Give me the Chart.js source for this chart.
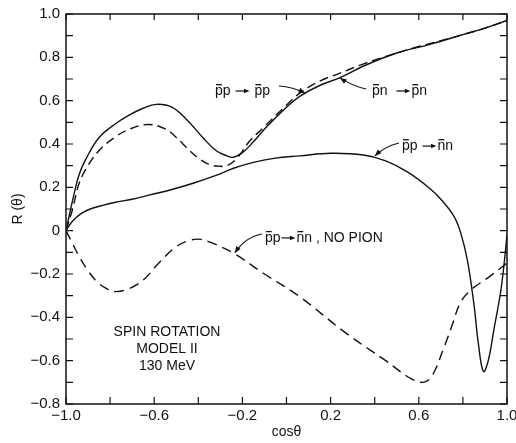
<!DOCTYPE html>
<html>
<head>
<meta charset="utf-8">
<script src="https://cdn.jsdelivr.net/npm/chart.js@4.4.0/dist/chart.umd.min.js"></script>
<style>
  html, body { margin: 0; background: #fff; }
  #wrap { width: 516px; height: 443px; }
</style>
</head>
<body>
<div id="wrap"><canvas id="c" width="516" height="443"></canvas></div>
<script>
  // pbar n -> pbar n (solid, upper)
  const pnX = [-1, -0.97, -0.94, -0.91, -0.85, -0.78, -0.72, -0.65, -0.59, -0.52, -0.45, -0.38, -0.32, -0.27, -0.24, -0.2, -0.15, -0.09, 0, 0.06, 0.15, 0.24, 0.35, 0.5, 0.65, 0.8, 0.9, 1.0];
  const pnY = [0, 0.14, 0.26, 0.33, 0.43, 0.49, 0.53, 0.565, 0.583, 0.57, 0.51, 0.43, 0.37, 0.345, 0.339, 0.36, 0.41, 0.48, 0.57, 0.62, 0.67, 0.705, 0.76, 0.82, 0.86, 0.905, 0.935, 0.97];

  // pbar p -> pbar p (dashed, upper)
  const ppX = [-1, -0.97, -0.94, -0.9, -0.85, -0.78, -0.72, -0.63, -0.55, -0.5, -0.44, -0.4, -0.35, -0.31, -0.27, -0.22, -0.17, -0.1, 0, 0.06, 0.15, 0.24, 0.35, 0.47, 0.6, 0.75, 0.9, 1.0];
  const ppY = [0, 0.1, 0.22, 0.3, 0.37, 0.43, 0.465, 0.49, 0.47, 0.43, 0.37, 0.335, 0.305, 0.298, 0.3, 0.34, 0.41, 0.48, 0.58, 0.635, 0.69, 0.726, 0.77, 0.81, 0.85, 0.89, 0.935, 0.97];

  // pbar p -> nbar n (solid, middle)
  const nnX = [-1, -0.97, -0.93, -0.89, -0.84, -0.78, -0.7, -0.62, -0.52, -0.42, -0.32, -0.24, -0.15, -0.05, 0.06, 0.2, 0.35, 0.45, 0.55, 0.65, 0.7, 0.76, 0.79, 0.82, 0.85, 0.87, 0.893, 0.915, 0.94, 0.97, 0.985, 1.0];
  const nnY = [0, 0.045, 0.08, 0.1, 0.115, 0.13, 0.145, 0.165, 0.19, 0.22, 0.255, 0.288, 0.315, 0.335, 0.345, 0.357, 0.349, 0.322, 0.27, 0.195, 0.145, 0.065, -0.01, -0.135, -0.34, -0.52, -0.65, -0.6, -0.46, -0.29, -0.17, -0.02];

  // pbar p -> nbar n, no pion (dashed, lower)
  const npX = [-1, -0.97, -0.94, -0.9, -0.86, -0.82, -0.78, -0.72, -0.65, -0.58, -0.5, -0.44, -0.39, -0.33, -0.24, -0.1, 0.06, 0.27, 0.45, 0.56, 0.62, 0.66, 0.71, 0.75, 0.79, 0.84, 0.91, 1.0];
  const npY = [0, -0.06, -0.12, -0.185, -0.235, -0.265, -0.281, -0.27, -0.228, -0.15, -0.074, -0.045, -0.04, -0.06, -0.104, -0.2, -0.305, -0.473, -0.6, -0.68, -0.7, -0.67, -0.55, -0.44, -0.33, -0.27, -0.22, -0.15];

  const xTickValues = [-1, -0.6, -0.2, 0.2, 0.6, 1.0];
  const xTickLabels = ['\u22121.0', '\u22120.6', '\u22120.2', '0.2', '0.6', '1.0'];
  const yTickValues = [-0.8, -0.6, -0.4, -0.2, 0, 0.2, 0.4, 0.6, 0.8, 1.0];
  const yTickLabels = ['\u22120.8', '\u22120.6', '\u22120.4', '\u22120.2', '0', '0.2', '0.4', '0.6', '0.8', '1.0'];

  const FONT = '"Liberation Sans", Arial, sans-serif';
  const INK = '#111';

  function pts(xs, ys) {
    return xs.map((x, i) => ({ x: x, y: ys[i] }));
  }

  function arrowHead(ctx, x0, y0, x1, y1, size) {
    const a = Math.atan2(y1 - y0, x1 - x0);
    ctx.beginPath();
    ctx.moveTo(x1, y1);
    ctx.lineTo(x1 - size * Math.cos(a - 0.38), y1 - size * Math.sin(a - 0.38));
    ctx.lineTo(x1 - size * Math.cos(a + 0.38), y1 - size * Math.sin(a + 0.38));
    ctx.closePath();
    ctx.fill();
  }

  // '^' puts a bar over the next letter, '>' is a short reaction arrow
  function drawLabel(ctx, x, y, str) {
    let cx = x;
    for (let i = 0; i < str.length; i++) {
      const c = str[i];
      if (c === '^') {
        const ch = str[++i];
        const w = ctx.measureText(ch).width;
        ctx.fillText(ch, cx, y);
        ctx.fillRect(cx + 1, y - 11, w - 2, 1.3);
        cx += w;
      } else if (c === '>') {
        ctx.fillRect(cx + 1, y - 4.6, 9, 1.2);
        arrowHead(ctx, cx + 1, y - 4, cx + 15, y - 4, 6);
        cx += 16;
      } else {
        ctx.fillText(c, cx, y);
        cx += ctx.measureText(c).width;
      }
    }
  }

  // text labels and their pointers, in data units
  const labels = [
    { x: -0.324, y: 0.626, text: '^pp > ^pp' },
    { x: 0.388, y: 0.626, text: '^pn  >^pn' },
    { x: 0.524, y: 0.372, text: '^pp >^nn' },
    { x: -0.098, y: -0.052, text: '^pp>^nn , NO PION' }
  ];
  const pointers = [
    [[-0.034, 0.668], [0.029, 0.663], [0.084, 0.635]],
    [[0.361, 0.654], [0.297, 0.668], [0.243, 0.705]],
    [[0.510, 0.405], [0.447, 0.391], [0.401, 0.345]],
    [[-0.111, -0.015], [-0.188, -0.029], [-0.234, -0.103]]
  ];
  const noteLines = ['SPIN ROTATION', 'MODEL II', '130 MeV'];
  const noteY = [-0.486, -0.564, -0.643];

  const framePlugin = {
    id: 'frame',
    afterDatasetsDraw(chart) {
      const ctx = chart.ctx;
      const xs = chart.scales.x, ys = chart.scales.y;
      const a = chart.chartArea;
      ctx.save();
      ctx.strokeStyle = INK;
      ctx.fillStyle = INK;
      ctx.lineWidth = 1.5;
      ctx.strokeRect(a.left, a.top, a.right - a.left, a.bottom - a.top);

      // inward tick marks
      ctx.lineWidth = 1.2;
      ctx.beginPath();
      for (let k = -8; k <= 10; k++) {
        const py = ys.getPixelForValue(k / 10);
        ctx.moveTo(a.left, py); ctx.lineTo(a.left + 7, py);
        ctx.moveTo(a.right, py); ctx.lineTo(a.right - 7, py);
      }
      for (let k = -5; k <= 5; k++) {
        const px = xs.getPixelForValue(k / 5);
        ctx.moveTo(px, a.bottom); ctx.lineTo(px, a.bottom - 7);
        ctx.moveTo(px, a.top); ctx.lineTo(px, a.top + 6);
      }
      ctx.stroke();

      // annotation labels
      ctx.font = '14px ' + FONT;
      ctx.textBaseline = 'alphabetic';
      ctx.textAlign = 'left';
      labels.forEach(l => {
        drawLabel(ctx, xs.getPixelForValue(l.x), ys.getPixelForValue(l.y), l.text);
      });
      ctx.lineWidth = 1.1;
      pointers.forEach(p => {
        const s = [xs.getPixelForValue(p[0][0]), ys.getPixelForValue(p[0][1])];
        const c = [xs.getPixelForValue(p[1][0]), ys.getPixelForValue(p[1][1])];
        const e = [xs.getPixelForValue(p[2][0]), ys.getPixelForValue(p[2][1])];
        ctx.beginPath();
        ctx.moveTo(s[0], s[1]);
        ctx.quadraticCurveTo(c[0], c[1], e[0], e[1]);
        ctx.stroke();
        arrowHead(ctx, c[0], c[1], e[0], e[1], 7);
      });

      ctx.textAlign = 'center';
      noteLines.forEach((t, i) => {
        ctx.fillText(t, xs.getPixelForValue(-0.542), ys.getPixelForValue(noteY[i]));
      });
      ctx.restore();
    }
  };

  const lineStyle = {
    borderColor: INK,
    borderWidth: 1.4,
    borderJoinStyle: 'round',
    pointRadius: 0,
    fill: false,
    tension: 0.4
  };

  new Chart(document.getElementById('c'), {
    type: 'line',
    data: {
      datasets: [
        Object.assign({ label: 'pn -> pn', data: pts(pnX, pnY) }, lineStyle),
        Object.assign({ label: 'pp -> pp', data: pts(ppX, ppY), borderDash: [9, 5] }, lineStyle),
        Object.assign({ label: 'pp -> nn', data: pts(nnX, nnY) }, lineStyle),
        Object.assign({ label: 'pp -> nn, no pion', data: pts(npX, npY), borderDash: [10, 6] }, lineStyle)
      ]
    },
    options: {
      responsive: false,
      animation: false,
      layout: { padding: { top: 14, right: 9, left: 0, bottom: 0 } },
      plugins: {
        legend: { display: false },
        tooltip: { enabled: false }
      },
      scales: {
        x: {
          type: 'linear',
          min: -1,
          max: 1,
          grid: { display: false, drawTicks: false },
          border: { display: false },
          afterBuildTicks: s => { s.ticks = xTickValues.map(v => ({ value: v })); },
          afterFit: s => { s.height = 39; s.paddingLeft = 0; s.paddingRight = 0; },
          ticks: {
            autoSkip: false,
            maxRotation: 0,
            padding: 3,
            color: INK,
            font: { family: FONT, size: 15 },
            callback: (v, i) => xTickLabels[i]
          },
          title: {
            display: true,
            text: 'cos\u03b8',
            color: INK,
            font: { family: FONT, size: 14 },
            padding: { top: 0, bottom: 2 }
          }
        },
        y: {
          min: -0.8,
          max: 1.0,
          grid: { display: false, drawTicks: false },
          border: { display: false },
          afterBuildTicks: s => { s.ticks = yTickValues.map(v => ({ value: v })); },
          afterFit: s => { s.width = 66; s.paddingTop = 0; s.paddingBottom = 0; },
          ticks: {
            autoSkip: false,
            padding: 6,
            color: INK,
            font: { family: FONT, size: 15 },
            callback: (v, i) => yTickLabels[i]
          },
          title: {
            display: true,
            text: 'R (\u03b8)',
            color: INK,
            font: { family: FONT, size: 14 },
            padding: { top: 10, bottom: 0 }
          }
        }
      }
    },
    plugins: [framePlugin]
  });
</script>
</body>
</html>
